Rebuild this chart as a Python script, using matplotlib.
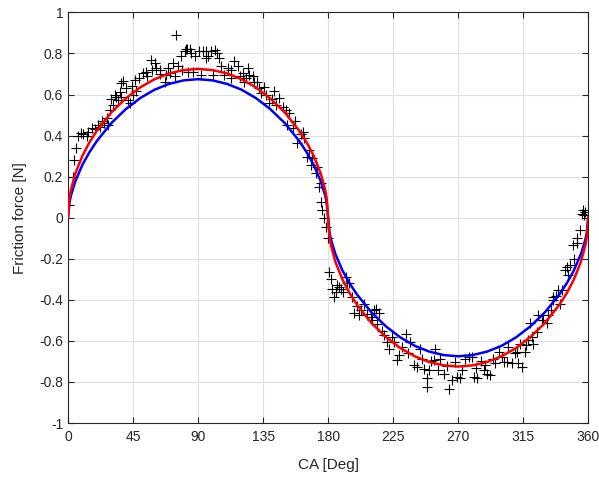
import numpy as np
import matplotlib.pyplot as plt

# measured friction force (scatter)
meas_deg = [0.5, 3.2, 4.1, 5.5, 7.1, 8.7, 10.6, 12.9, 16.3, 18.6, 20.9, 23.2, 27.8, 26.7, 29.0,
            30.1, 32.4, 34.7, 37.0, 38.1, 37.0, 41.6, 42.8, 45.0, 46.2, 47.4, 51.9, 53.8, 57.7,
            60.0, 61.2, 63.4, 68.0, 66.9, 70.3, 72.6, 73.8, 75.0, 78.4, 80.7, 82.6,
            81.9, 84.1, 86.4, 83.0, 91.0, 93.3, 95.7, 99.1, 101.4, 95.7, 104.8, 92.2, 100.2,
            108.3, 110.6, 115.2, 117.4, 112.9, 120.9, 124.4, 125.5, 127.8, 123.2, 132.4, 135.9,
            133.6, 139.3, 142.8, 146.2, 144.0, 148.5, 150.8, 153.1, 151.9, 155.4, 162.3, 158.8,
            163.5, 165.7, 169.2, 168.0, 172.6, 171.5, 175.0, 175.0, 176.1, 178.4, 179.6, 180.7,
            192.2, 193.4, 187.6, 183.0, 185.3, 184.1, 196.8, 204.8, 212.9,
            194.5, 188.8, 198.0, 201.4, 209.4, 211.7, 215.2, 210.6, 218.6, 220.9, 222.1,
            225.5, 229.0, 227.8, 233.6, 237.0, 239.3, 241.6, 243.9, 246.2, 249.7, 248.5, 248.5,
            254.3, 253.1, 257.7, 260.0, 263.4, 268.1, 269.2, 271.5, 275.0,
            277.3, 279.6, 280.8, 283.1, 287.7, 290.0, 292.3, 288.8, 295.7, 298.0, 301.4, 303.7,
            307.1, 311.7, 314.0, 304.8, 310.6, 313.0, 316.3, 318.6, 322.1, 324.4, 319.8, 325.5,
            327.8, 331.3, 332.4, 335.9, 335.9, 340.6, 339.3, 341.6, 343.9, 345.1, 347.4, 349.7,
            352.0, 352.0, 355.4, 356.6, 357.2,
            14, 22, 25, 31, 33, 36, 40, 44, 49, 55, 58, 64, 69, 76, 79, 85, 88, 97, 103, 106,
            113, 119, 122, 129, 131, 137, 141, 157, 161, 167, 174, 177,
            182, 186, 190, 200, 203, 207, 214, 217, 224, 231, 235, 245, 251, 256, 262, 266,
            273, 282, 286, 294, 300, 309, 317, 321, 329, 334, 338, 346, 350, 354, 358]
meas_force = [0.06, 0.20, 0.28, 0.34, 0.40, 0.415, 0.41, 0.40, 0.435, 0.43, 0.45, 0.47, 0.45, 0.485, 0.525,
              0.58, 0.60, 0.575, 0.655, 0.665, 0.59, 0.574, 0.56, 0.60, 0.67, 0.615, 0.705, 0.71, 0.77,
              0.753, 0.73, 0.72, 0.695, 0.663, 0.705, 0.753, 0.688, 0.89, 0.79, 0.81, 0.82,
              0.82, 0.823, 0.71, 0.71, 0.81, 0.81, 0.813, 0.81, 0.818, 0.78, 0.78, 0.696, 0.696,
              0.696, 0.729, 0.764, 0.737, 0.68, 0.704, 0.729, 0.696, 0.688, 0.68, 0.631, 0.639,
              0.607, 0.558, 0.615, 0.582, 0.55, 0.541, 0.525, 0.509, 0.452, 0.436, 0.42, 0.363,
              0.387, 0.298, 0.29, 0.257, 0.249, 0.217, 0.168, 0.078, 0.038, -0.044, -0.10, -0.263,
              -0.288, -0.32, -0.337, -0.345, -0.361, -0.385, -0.385, -0.418, -0.447,
              -0.32, -0.345, -0.466, -0.475, -0.483, -0.45, -0.466, -0.50, -0.572, -0.605, -0.637,
              -0.605, -0.67, -0.694, -0.564, -0.605, -0.719, -0.727, -0.637, -0.735, -0.743, -0.783, -0.824,
              -0.637, -0.694, -0.686, -0.759, -0.832, -0.702, -0.776, -0.783, -0.686,
              -0.678, -0.678, -0.776, -0.783, -0.743, -0.759, -0.767, -0.719, -0.71, -0.654, -0.702, -0.702,
              -0.707, -0.71, -0.727, -0.629, -0.654, -0.613, -0.654, -0.597, -0.613, -0.556, -0.515, -0.475,
              -0.499, -0.515, -0.475, -0.402, -0.385, -0.418, -0.353, -0.353, -0.255, -0.239, -0.231, -0.133,
              -0.125, -0.10, 0.02, 0.037, 0.013,
              0.42, 0.44, 0.46, 0.55, 0.59, 0.61, 0.63, 0.64, 0.68, 0.69, 0.72, 0.70, 0.73, 0.74, 0.72,
              0.80, 0.79, 0.79, 0.80, 0.74, 0.72, 0.69, 0.66, 0.66, 0.66, 0.60, 0.58, 0.47, 0.41, 0.33,
              0.15, 0.0,
              -0.30, -0.33, -0.36, -0.43, -0.45, -0.47, -0.52, -0.55, -0.58, -0.63, -0.66, -0.69,
              -0.70, -0.74, -0.72, -0.79, -0.74, -0.73, -0.70, -0.69, -0.68, -0.66, -0.62, -0.58,
              -0.50, -0.45, -0.38, -0.28, -0.20, -0.06, 0.03]

# model curves
curve_deg = [0, 1, 2, 5, 10, 15, 20, 30, 40, 50, 60, 70, 80, 90, 100, 110, 120, 130, 140, 150,
             160, 165, 170, 175, 178, 179, 180, 181, 182, 185, 190, 195, 200, 210, 220, 230, 240,
             250, 260, 270, 280, 290, 300, 310, 320, 330, 340, 345, 350, 355, 358, 359, 360]
red_force = [0, 0.096, 0.135, 0.214, 0.302, 0.369, 0.424, 0.513, 0.581, 0.635, 0.675, 0.703, 0.719,
             0.725, 0.719, 0.703, 0.675, 0.635, 0.581, 0.513, 0.424, 0.369, 0.302, 0.214, 0.135,
             0.096, 0, -0.096, -0.135, -0.214, -0.302, -0.369, -0.424, -0.513, -0.581, -0.635,
             -0.675, -0.703, -0.719, -0.725, -0.719, -0.703, -0.675, -0.635, -0.581, -0.513,
             -0.424, -0.369, -0.302, -0.214, -0.135, -0.096, 0]
blue_force = [0, 0.073, 0.107, 0.176, 0.258, 0.321, 0.374, 0.461, 0.529, 0.583, 0.624, 0.652, 0.669,
              0.675, 0.669, 0.652, 0.624, 0.583, 0.529, 0.461, 0.374, 0.321, 0.258, 0.176, 0.107,
              0.073, 0, -0.073, -0.107, -0.176, -0.258, -0.321, -0.374, -0.461, -0.529, -0.583,
              -0.624, -0.652, -0.669, -0.675, -0.669, -0.652, -0.624, -0.583, -0.529, -0.461,
              -0.374, -0.321, -0.258, -0.176, -0.107, -0.073, 0]

x_ticks = [0, 45, 90, 135, 180, 225, 270, 315, 360]
y_ticks = [-1, -0.8, -0.6, -0.4, -0.2, 0, 0.2, 0.4, 0.6, 0.8, 1]
y_labels = ['-1', '-0.8', '-0.6', '-0.4', '-0.2', '0', '0.2', '0.4', '0.6', '0.8', '1']

plt.rcParams['font.family'] = ['Liberation Sans', 'DejaVu Sans']
txt_col = '#262626'

fig, ax = plt.subplots(figsize=(5.99, 4.78), dpi=100)
fig.subplots_adjust(left=0.1135, right=0.982, bottom=0.115, top=0.974)

ax.plot(meas_deg, meas_force, linestyle='none', marker='+', color='black',
        markersize=7, markeredgewidth=0.8, zorder=2)
ax.plot(curve_deg, blue_force, color='blue', linewidth=1.8, zorder=3)
ax.plot(curve_deg, red_force, color='red', linewidth=1.8, zorder=4)

ax.set_xlim(0, 360)
ax.set_ylim(-1, 1)
ax.set_xticks(x_ticks)
ax.set_yticks(y_ticks, labels=y_labels)
ax.set_xlabel('CA [Deg]', fontsize=11, color=txt_col, labelpad=10)
ax.set_ylabel('Friction force [N]', fontsize=11, color=txt_col, labelpad=9)
ax.tick_params(direction='in', length=4, width=0.8, top=True, right=True,
               labelsize=10, colors=txt_col)
ax.tick_params(axis='x', pad=5)
ax.grid(True, color='#dfdfdf', linewidth=0.8)
ax.set_axisbelow(True)
for s in ax.spines.values():
    s.set_color(txt_col)
    s.set_linewidth(0.8)

fig.savefig('out.png', dpi=100)
